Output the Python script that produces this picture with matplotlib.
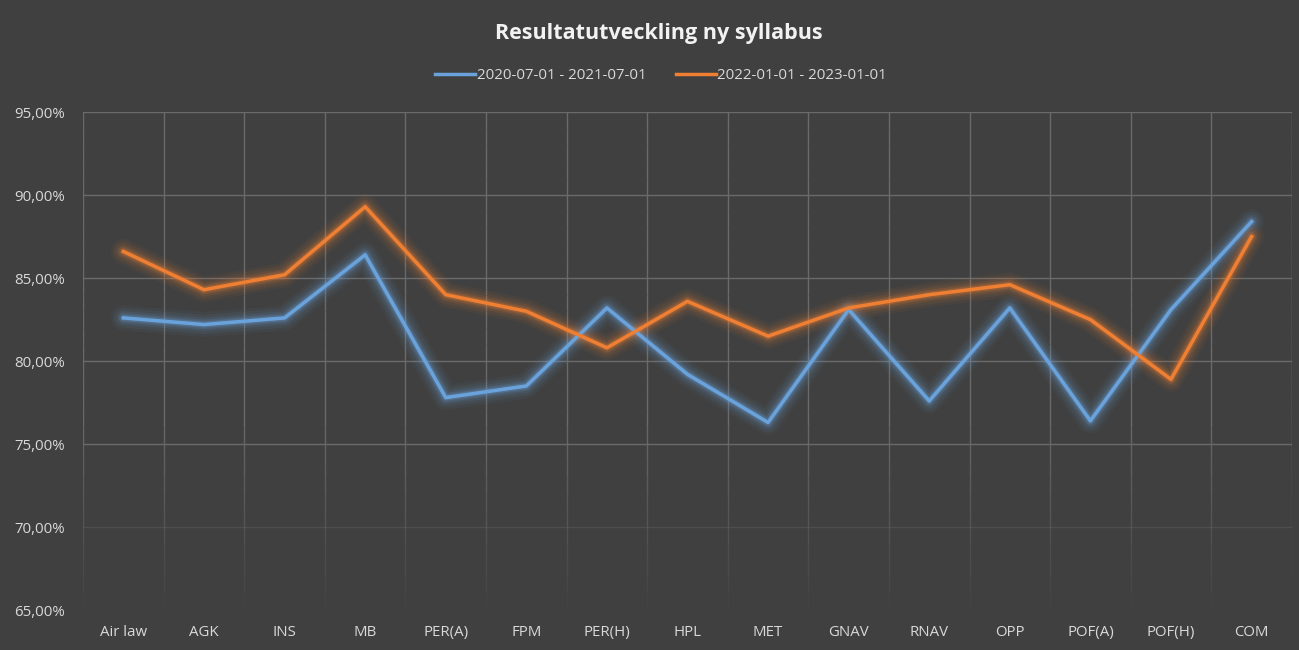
import numpy as np
import matplotlib.pyplot as plt
from matplotlib.ticker import FuncFormatter

# Data
categories = ["Air law", "AGK", "INS", "MB", "PER(A)", "FPM", "PER(H)", "HPL",
              "MET", "GNAV", "RNAV", "OPP", "POF(A)", "POF(H)", "COM"]
period1 = [82.6, 82.2, 82.6, 86.4, 77.8, 78.5, 83.2, 79.2,
           76.3, 83.1, 77.6, 83.2, 76.4, 83.1, 88.4]
period2 = [86.6, 84.3, 85.2, 89.3, 84.0, 83.0, 80.8, 83.6,
           81.5, 83.2, 84.0, 84.6, 82.5, 78.9, 87.5]
label1 = "2020-07-01 - 2021-07-01"
label2 = "2022-01-01 - 2023-01-01"

bg = "#404040"
blue = "#6aa3dc"
orange = "#ef7f33"
txt = "#d9d9d9"

plt.rcParams['font.family'] = ['Open Sans', 'DejaVu Sans']

fig = plt.figure(figsize=(12.99, 6.5), dpi=100, facecolor=bg)
ax = fig.add_axes([0.064, 0.0615, 0.9305, 0.766])
ax.set_facecolor(bg)

x = np.arange(len(categories))
ax.set_xlim(-0.5, len(categories) - 0.5)
ax.set_ylim(65, 95)

# grid (fades out towards the bottom)
segs = np.linspace(65, 95, 31)
for b in np.arange(-0.5, len(categories), 1.0):
    for lo, hi in zip(segs[:-1], segs[1:]):
        a = min(1.0, max(0.0, (hi - 65) / 12.0))
        ax.plot([b, b], [lo, hi], color="#6a6a6a", lw=1, alpha=a, zorder=1,
                solid_capstyle="butt")
for yv in [70, 75, 80, 85, 90, 95]:
    a = 0.35 if yv == 70 else 1.0
    ax.axhline(yv, color="#6a6a6a", lw=1, alpha=a, zorder=1)

# glowing lines
for data, col in [(period1, blue), (period2, orange)]:
    for lw, al in [(18, 0.05), (14, 0.07), (10, 0.10), (7, 0.16), (4.5, 0.25)]:
        ax.plot(x, data, color=col, lw=lw, alpha=al, solid_joinstyle="round",
                solid_capstyle="round", zorder=2)
h1, = ax.plot(x, period1, color=blue, lw=2.5, zorder=3, label=label1)
h2, = ax.plot(x, period2, color=orange, lw=2.5, zorder=3, label=label2)

for s in ax.spines.values():
    s.set_visible(False)

ax.set_yticks([65, 70, 75, 80, 85, 90, 95])
ax.yaxis.set_major_formatter(FuncFormatter(lambda v, p: "{:.2f}%".format(v).replace(".", ",")))
ax.set_xticks(x)
ax.set_xticklabels(categories)
ax.tick_params(axis="both", length=0, colors=txt, labelsize=10.8)
ax.tick_params(axis="x", pad=11)
ax.tick_params(axis="y", pad=13)

fig.text(0.507, 0.949, "Resultatutveckling ny syllabus", ha="center", va="center",
         fontsize=15.5, fontweight="bold", color="#f2f2f2")

fig.legend(handles=[h1, h2], loc="center", bbox_to_anchor=(0.509, 0.884), ncol=2,
           frameon=False, fontsize=10.8, labelcolor=txt, handlelength=2.65,
           handletextpad=0.1, columnspacing=2.0)

fig.savefig("out.png", dpi=100, facecolor=bg)
